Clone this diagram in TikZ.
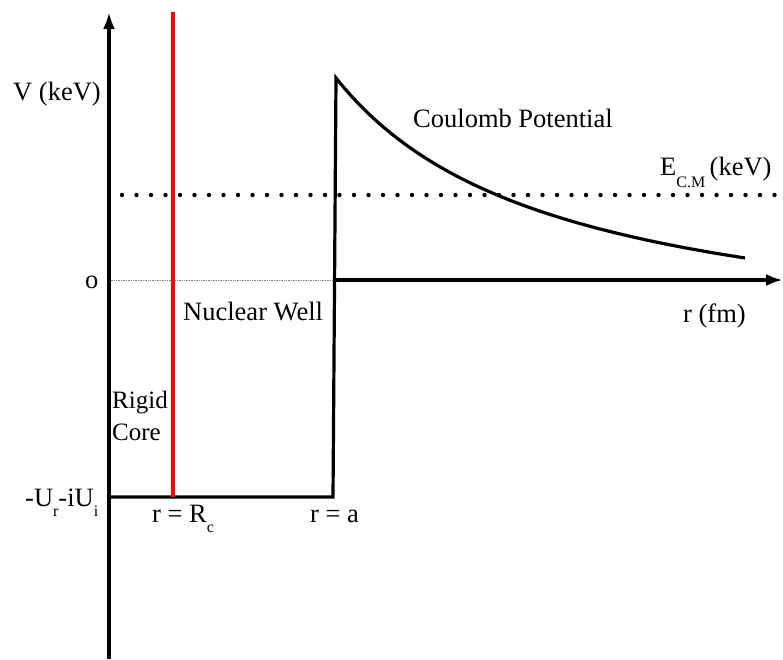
\documentclass[tikz,border=0pt]{standalone}
\usepackage{fontspec}
\setmainfont{Liberation Serif}
\usetikzlibrary{arrows.meta}
\newcommand{\lowsub}[2][10]{\raisebox{-#1pt}{\fontsize{16}{16}\selectfont #2}}
\begin{document}
\begin{tikzpicture}[x=1pt,y=-1pt,
  axisline/.style={line width=3.4pt,-{Latex[length=17pt,width=12pt]}},
  potline/.style={line width=3.2pt,line join=miter},
  coreline/.style={line width=3.2pt,draw={rgb,255:red,255;green,0;blue,0}},
  ecmline/.style={line width=4.4pt,line cap=round,dash pattern=on 0pt off 14.5pt},
  zeroline/.style={line width=0.7pt,gray,densely dotted},
  lbl/.style={font=\fontsize{26.5}{26.5}\selectfont,inner sep=0pt,anchor=base west},
  smalllbl/.style={lbl,font=\fontsize{25}{25}\selectfont}]
\useasboundingbox (0,0) rectangle (783,659);
% coordinates
\coordinate (origin) at (109,280);
\coordinate (ytop) at (109,12);
\coordinate (ybot) at (109,659);
\coordinate (xstart) at (334,280);
\coordinate (xend) at (783,280);
\coordinate (wellL) at (109,497);
\coordinate (wallbase) at (333,497);
\coordinate (walltop) at (336,78);
\coordinate (rctop) at (173,12);
\coordinate (rcbot) at (173,497);
\coordinate (eL) at (122,195);
\coordinate (eR) at (783,195);
% lines
\draw[zeroline] (origin) -- (xstart);
\draw[ecmline] (eL) -- (eR);
\draw[axisline] (ybot) -- (ytop);
\draw[axisline] (xstart) -- (xend);
\draw[potline] (wellL) -- (wallbase) -- (walltop)
  -- plot[domain=336:745,samples=80,smooth] (\x,{354.7-608.26/((\x-116.2)/100)});
\draw[coreline] (rctop) -- (rcbot);
% labels
\node[lbl] (vlab) at (13,100) {V (keV)};
\node[lbl] (coul) at (413,127) {Coulomb Potential};
\node[lbl] (ecm) at (660,175) {E\lowsub[12]{C.M}\,(keV)};
\node[lbl] (zero) at (85,288) {o};
\node[lbl] (rfm) at (683,322) {r (fm)};
\node[lbl] (nw) at (183,320) {Nuclear Well};
\node[smalllbl] (rigid) at (112,408) {Rigid};
\node[smalllbl] (core) at (112,440) {Core};
\node[lbl] (uu) at (25,506) {-U\lowsub{r}-iU\lowsub{i}};
\node[lbl] (rrc) at (152,522) {r = R\lowsub{c}};
\node[lbl] (ra) at (310,522) {r = a};
\end{tikzpicture}
\end{document}
